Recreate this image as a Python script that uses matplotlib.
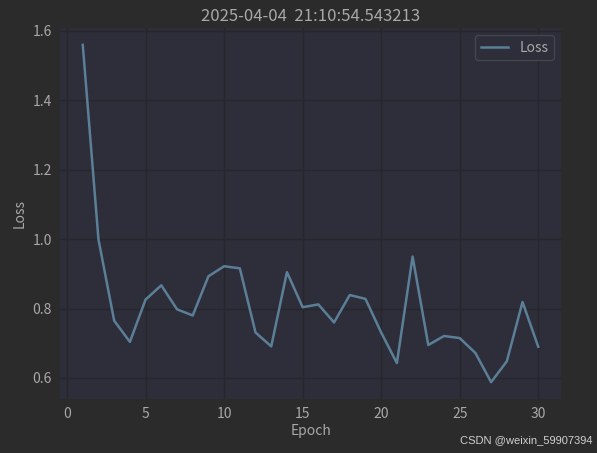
import matplotlib
matplotlib.use("Agg")
import matplotlib.pyplot as plt

plt.rcParams['font.family'] = ['Noto Sans CJK SC', 'DejaVu Sans']

epochs = list(range(1, 31))
loss = [1.560, 0.999, 0.765, 0.704, 0.826, 0.867, 0.798, 0.780, 0.893, 0.922,
        0.916, 0.731, 0.691, 0.905, 0.804, 0.812, 0.760, 0.839, 0.828, 0.731,
        0.643, 0.950, 0.695, 0.721, 0.715, 0.672, 0.588, 0.648, 0.819, 0.690]
title = "2025-04-04  21:10:54.543213"

bg = "#2b2b2b"
ax_bg = "#2e2e3a"
txt = "#a8a8a8"
line_c = "#5b7f97"

fig = plt.figure(figsize=(5.97, 4.53), dpi=100, facecolor=bg)
ax = fig.add_axes([60 / 597, 1 - 399 / 453, 501 / 597, 371 / 453])
ax.set_facecolor(ax_bg)

ax.plot(epochs, loss, color=line_c, linewidth=1.8, label="Loss")

ax.set_title(title, color=txt, fontsize=12, pad=5)
ax.set_xlabel("Epoch", color=txt, fontsize=10, labelpad=2)
ax.set_ylabel("Loss", color=txt, fontsize=10)
ax.set_xticks([0, 5, 10, 15, 20, 25, 30])
ax.set_yticks([0.6, 0.8, 1.0, 1.2, 1.4, 1.6])
ax.tick_params(colors=txt, labelsize=10, length=0, pad=6)
ax.grid(True, color="#26262c", linewidth=1)
for s in ax.spines.values():
    s.set_visible(False)

leg = ax.legend(loc="upper right", fontsize=10, facecolor=ax_bg, edgecolor="#44444e",
                labelcolor=txt, framealpha=1)
leg.get_frame().set_linewidth(1)

fig.text(0.992, 0.018, "CSDN @weixin_59907394", color="#d0d0d0", fontsize=8,
         ha="right", va="bottom", family=['Liberation Sans', 'DejaVu Sans'])

fig.savefig("out.png", dpi=100, facecolor=bg)
